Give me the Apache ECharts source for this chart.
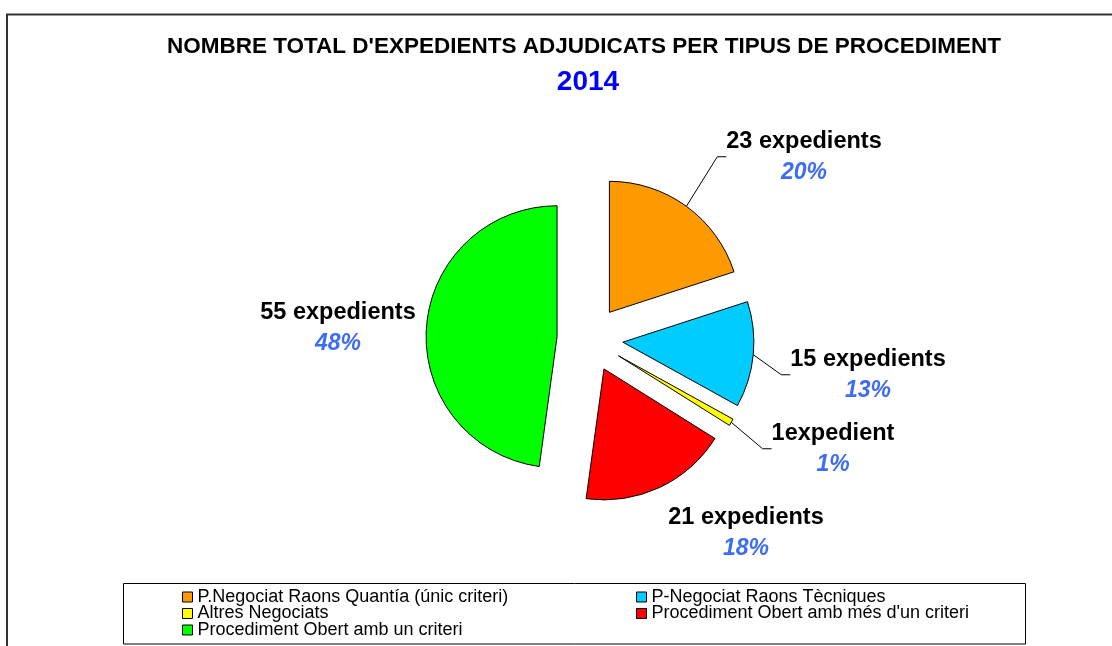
<!DOCTYPE html>
<html>
<head>
<meta charset="utf-8">
<script src="https://cdn.jsdelivr.net/npm/echarts@6/dist/echarts.min.js"></script>
<style>
html,body{margin:0;padding:0;background:#fff;}
#chart{width:1112px;height:646px;}
</style>
</head>
<body>
<div id="chart"></div>
<script>
// ---- data ----
const categories = [
  'P.Negociat Raons Quantía (únic criteri)',
  'P-Negociat Raons Tècniques',
  'Altres Negociats',
  "Procediment Obert amb més d'un criteri",
  'Procediment Obert amb un criteri'
];
const values = [23, 15, 1, 21, 55];
const countLabels = ['23 expedients', '15 expedients', '1expedient', '21 expedients', '55 expedients'];
const colors = ['#FF9900', '#00CCFF', '#FFFF00', '#FF0000', '#00FF00'];
const showLeader = [true, true, true, false, false];
const legendCol1 = [categories[0], categories[2], categories[4]];
const legendCol2 = [categories[1], categories[3]];
const titleText = "NOMBRE TOTAL D'EXPEDIENTS ADJUDICATS PER TIPUS DE PROCEDIMENT";
const yearText = '2014';

// label block centres (layout only)
const labelPos = [[804, 157], [868, 375], [833, 449], [746, 533], [338, 328]];

const FONT = "'Liberation Sans', Arial, sans-serif";
const PIE_CENTER = [590, 339];
const PIE_R = 131;
const EXPLODE = 33;

const chart = echarts.init(document.getElementById('chart'));

const legendBase = {
  orient: 'vertical',
  top: 588,
  padding: 0,
  icon: 'rect',
  itemWidth: 10,
  itemHeight: 10,
  itemGap: -1.5,
  selectedMode: false,
  itemStyle: { borderColor: '#000', borderWidth: 1 },
  textStyle: { fontFamily: FONT, fontSize: 18, lineHeight: 16.5, color: '#000' }
};

chart.setOption({
  animation: false,
  backgroundColor: '#fff',
  graphic: [
    { type: 'rect', silent: true, shape: { x: 7, y: 14.5, width: 1200, height: 700 },
      style: { fill: 'none', stroke: '#333', lineWidth: 2 } },
    { type: 'rect', silent: true, shape: { x: 123.5, y: 583.5, width: 902, height: 60.5 },
      style: { fill: 'none', stroke: '#000', lineWidth: 1 } },
    { type: 'text', silent: true, x: 584, y: 47,
      style: { text: titleText, fontFamily: FONT, fontSize: 22.5, fontWeight: 'bold', fill: '#000',
               textAlign: 'center', textVerticalAlign: 'middle' } },
    { type: 'text', silent: true, x: 588, y: 82,
      style: { text: yearText, fontFamily: FONT, fontSize: 28, fontWeight: 'bold', fill: '#0000FF',
               textAlign: 'center', textVerticalAlign: 'middle' } }
  ],
  legend: [
    Object.assign({}, legendBase, { left: 182, data: legendCol1 }),
    Object.assign({}, legendBase, { left: 636, data: legendCol2 })
  ],
  series: [
    // visible exploded pie
    {
      type: 'pie',
      center: PIE_CENTER,
      radius: PIE_R,
      startAngle: 90,
      clockwise: true,
      selectedMode: 'multiple',
      selectedOffset: EXPLODE,
      silent: true,
      emphasis: { disabled: true },
      itemStyle: { borderColor: '#000', borderWidth: 1 },
      select: { itemStyle: { borderColor: '#000', borderWidth: 1 } },
      label: { show: false },
      labelLine: { show: false },
      data: categories.map(function (name, i) {
        return { name: name, value: values[i], selected: true, itemStyle: { color: colors[i] } };
      })
    },
    // transparent pie reaching the exploded outer edge, carrying labels & leader lines
    {
      type: 'pie',
      center: PIE_CENTER,
      radius: PIE_R + EXPLODE,
      startAngle: 90,
      clockwise: true,
      silent: true,
      selectedMode: false,
      avoidLabelOverlap: false,
      percentPrecision: 0,
      emphasis: { disabled: true },
      itemStyle: { color: 'rgba(0,0,0,0)', borderWidth: 0 },
      label: {
        show: true,
        position: 'outside',
        formatter: function (p) { return '{a|' + countLabels[p.dataIndex] + '}\n{b|' + p.percent + '%}'; },
        rich: {
          a: { fontFamily: FONT, fontSize: 23.5, fontWeight: 'bold', color: '#000', lineHeight: 31, align: 'center' },
          b: { fontFamily: FONT, fontSize: 23, fontWeight: 'bold', fontStyle: 'italic', color: '#3D6CF5', lineHeight: 31, align: 'center' }
        }
      },
      labelLine: { show: true, length: 10, length2: 9, minTurnAngle: 0, lineStyle: { color: '#000', width: 1 } },
      labelLayout: function (p) {
        const pos = labelPos[p.dataIndex];
        return { x: pos[0], y: pos[1], align: 'center', verticalAlign: 'middle' };
      },
      data: categories.map(function (name, i) {
        return { name: name, value: values[i], labelLine: { show: showLeader[i] } };
      })
    }
  ]
});
</script>
</body>
</html>
